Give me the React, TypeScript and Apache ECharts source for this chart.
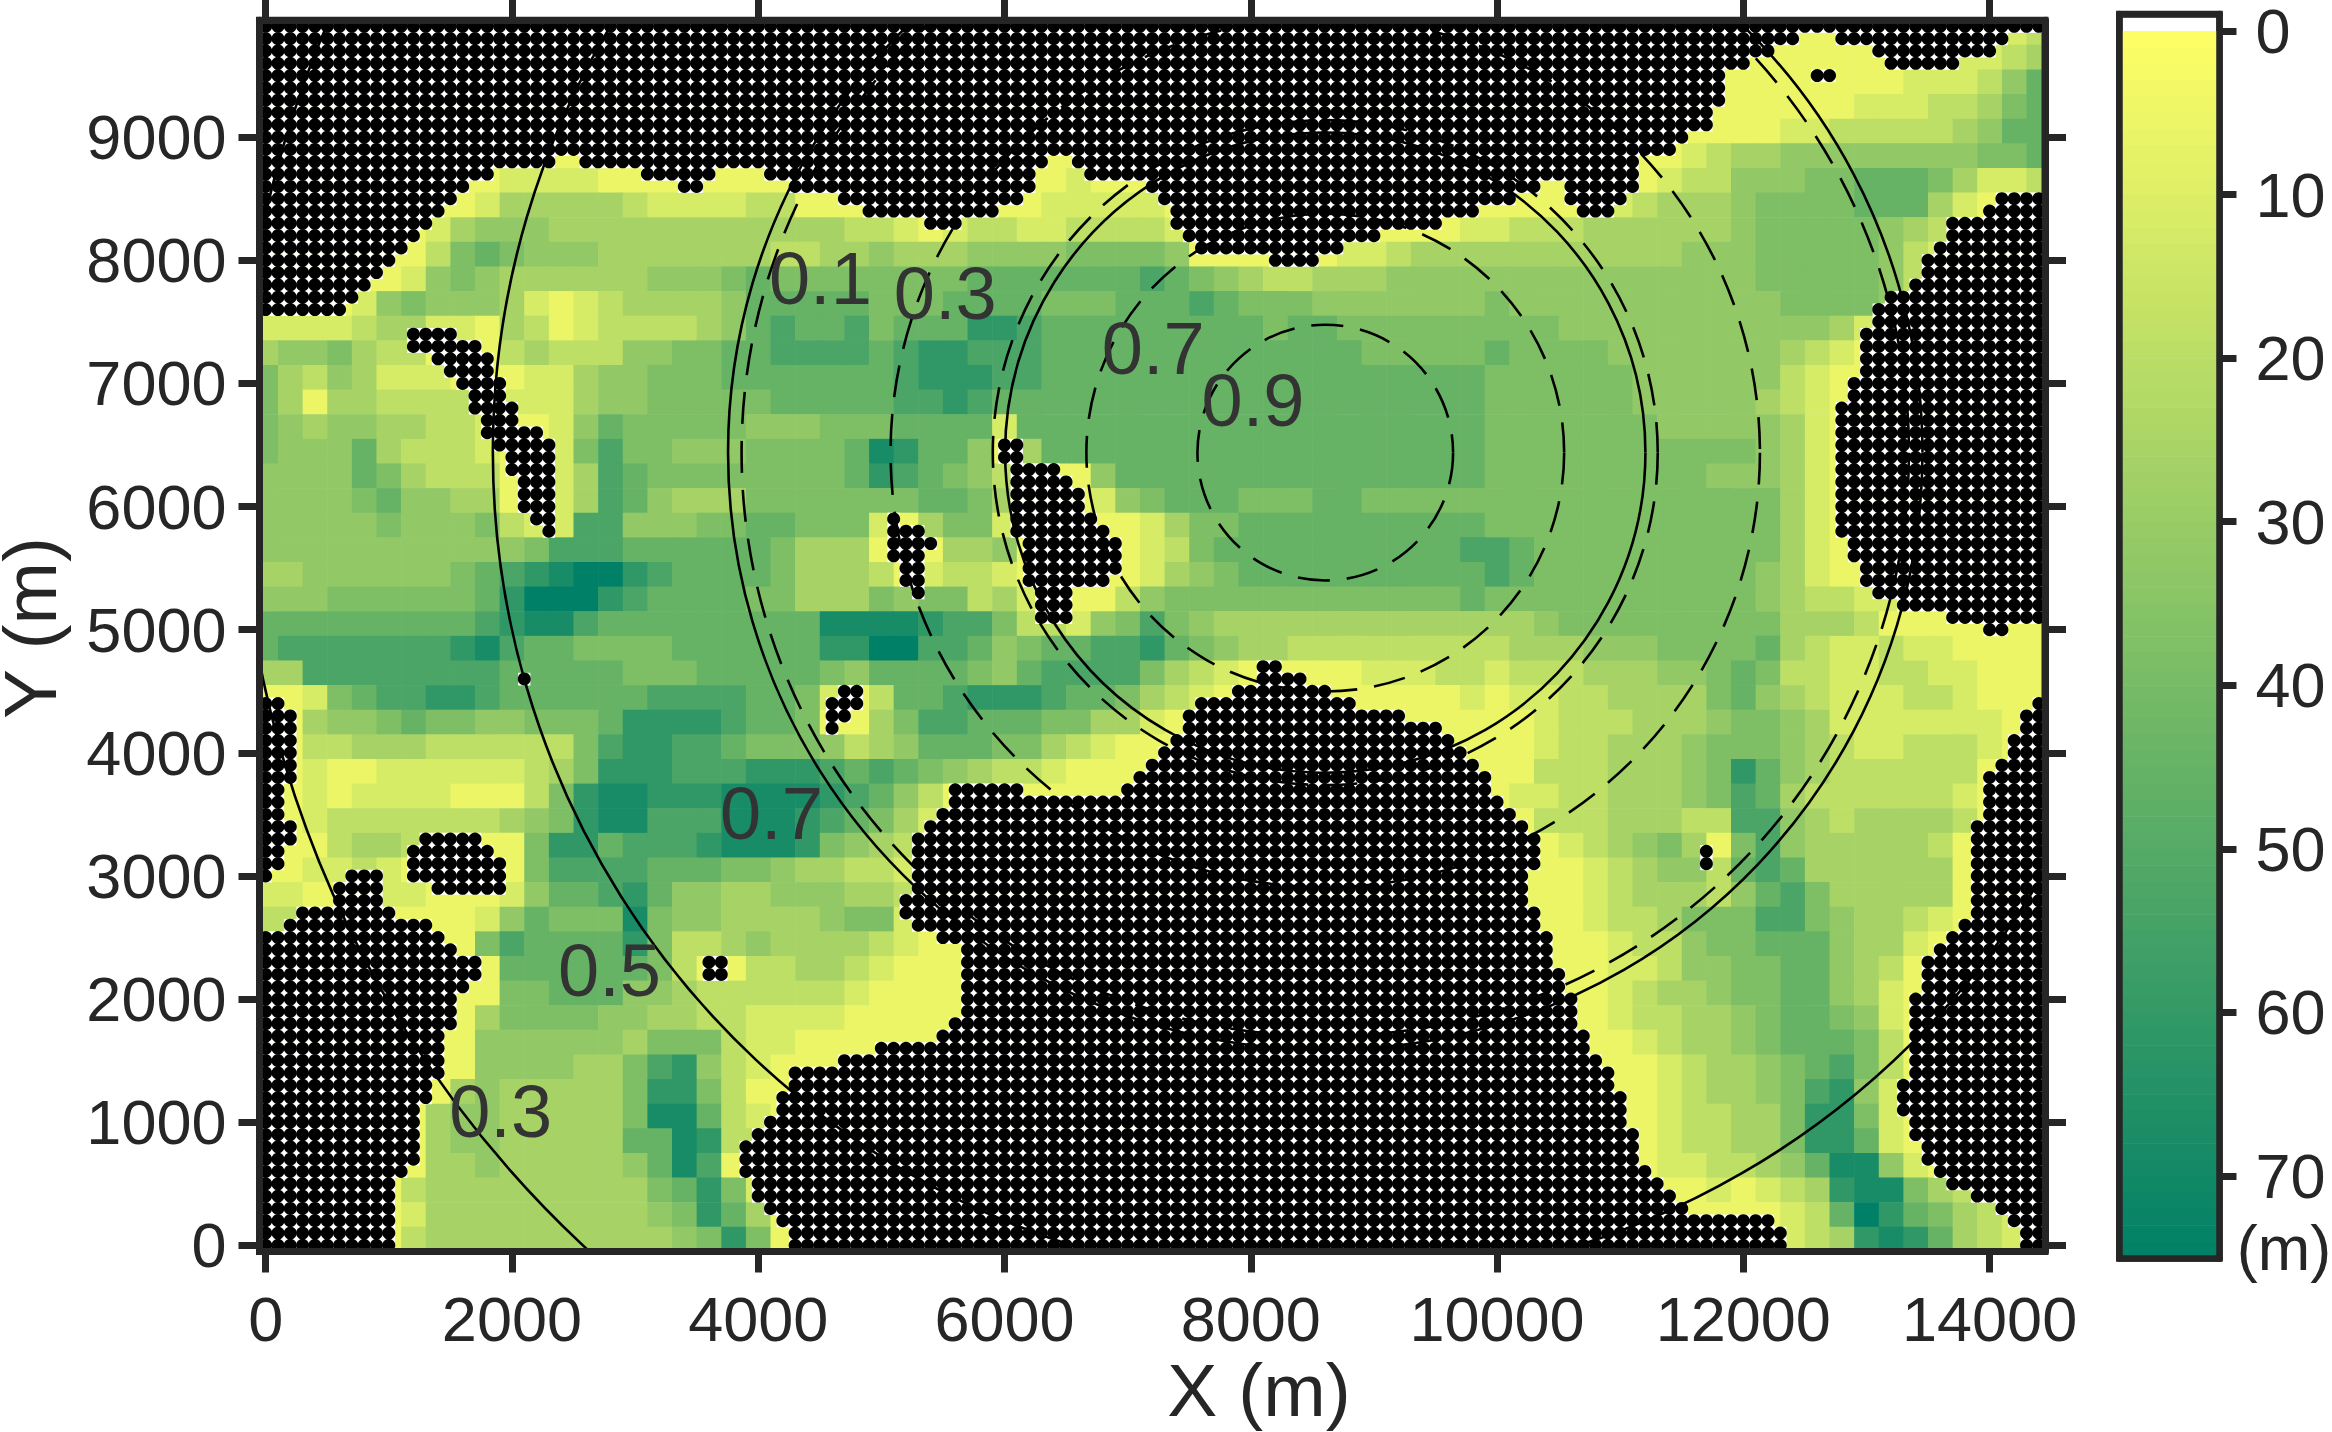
import React, { useEffect, useRef } from "react";
import * as echarts from "echarts";

const FONT = '"Liberation Sans", Arial, sans-serif';
const INK = "#262626";

const X_TICKS = [0, 2000, 4000, 6000, 8000, 10000, 12000, 14000];
const Y_TICKS = [0, 1000, 2000, 3000, 4000, 5000, 6000, 7000, 8000, 9000];
const CB_TICKS = [0, 10, 20, 30, 40, 50, 60, 70];
const LEVEL_DEPTHS = [6, 12, 19, 26, 32, 38, 45, 53, 61, 68, 75];

// depth levels; one row every 200 m from the top, each group spans 1000 m in x
const DEPTH_ROWS = [
  "00000 00000 00000 00000 00000 00000 00000 00000 00000 00000 00000 00000 00000 00000 012",
  "00000 00000 00000 00000 00000 00000 00000 00000 00000 00000 00000 00000 00000 00001 123",
  "00000 00000 00000 00000 00000 00000 00000 00000 00000 00000 00000 00000 00000 00111 246",
  "00000 00000 00000 00000 00000 00000 00000 00000 00000 00000 00000 00000 00000 11122 356",
  "00000 00000 00000 00000 00000 00000 00000 00000 00000 00000 00000 00000 00112 22223 466",
  "00000 00000 00000 00000 00000 00000 00000 00000 00000 00000 00000 00012 33444 44444 556",
  "00000 00000 11110 00000 00000 00000 00010 00000 00000 00000 00000 00122 44455 66653 112",
  "00000 00001 33333 21111 22000 00000 00111 11000 00000 00000 00000 12333 45555 66631 000",
  "00000 00134 44333 33333 33332 21012 21122 22100 00000 00001 12223 33333 45555 54320 000",
  "00000 00256 54443 33333 32233 43334 44455 55400 00001 12333 33333 33344 45555 54210 000",
  "00000 01454 33333 34445 65555 55556 66666 67654 32233 34444 44444 44444 45555 54210 000",
  "00001 45444 31012 33334 66666 55566 66555 66676 55544 44444 54444 44444 44555 54000 000",
  "11112 33110 32012 22234 67667 56668 87666 66666 65665 55555 55544 44444 44443 10000 000",
  "34453 22000 23222 44556 67777 67887 77666 66666 66666 55555 65555 44444 44321 00000 000",
  "53243 11100 01134 45556 66666 67888 77666 66666 66666 66666 55555 54444 44210 00000 000",
  "53033 22221 11134 45555 56666 67787 66666 66666 66666 66666 55555 54444 43210 00000 000",
  "54344 33221 00146 55555 44455 56666 16666 66666 66666 66666 55555 55444 44310 00000 000",
  "54446 32221 00157 55444 55556 98664 03666 66666 66666 66666 55555 55555 54310 00000 000",
  "44446 53222 00137 65555 55556 87654 20004 66666 66666 66666 55555 55554 44310 00000 000",
  "44445 64433 00137 64333 55555 55665 30001 45666 55566 55555 55555 55555 55310 00000 000",
  "44444 54445 21177 44455 66555 10355 10000 01355 66666 66666 55555 55555 55310 00000 000",
  "44444 44444 45777 66666 65333 00033 40000 01256 66666 66667 76555 55555 55310 00000 000",
  "33444 44456 789aa 87666 65333 20122 10000 01345 66666 66666 76555 55555 54310 00000 000",
  "44455 55556 8aaa8 76666 55333 54552 31000 24555 55555 55556 55555 55555 54322 11000 000",
  "66666 66667 89976 66666 66699 99877 52214 57543 33333 33333 33455 55555 55333 20000 000",
  "67777 77789 76655 55666 66688 aa776 45667 78654 33222 22222 23334 44555 56321 12110 000",
  "33777 77777 66666 55566 66654 66665 46777 75321 00000 11122 12223 33445 65221 12211 000",
  "00156 77887 66666 67777 66510 26678 88766 53210 00000 00001 01122 33335 64321 11221 000",
  "00344 56554 45556 88887 66500 35776 66553 31000 00000 00000 00122 23334 55431 11111 100",
  "00223 33222 22257 88776 55542 34666 55321 00000 00000 00000 00122 33345 55432 11222 100",
  "00100 11111 12358 88777 88876 76543 22100 00000 00000 00000 00222 33345 86432 22222 000",
  "00101 11100 02589 98889 99987 64200 00000 00000 00000 00000 01122 33345 76322 22221 000",
  "00122 22222 34589 97779 99876 53100 00000 00000 00000 00000 00222 33322 77432 33332 000",
  "00023 32000 05886 77789 99854 32000 00000 00000 00000 00000 00012 34530 57433 33320 000",
  "00112 10000 05777 76665 54332 21000 00000 00000 00000 00000 00001 23442 67633 33330 000",
  "11000 11000 14667 86443 34443 32000 00000 00000 00000 00000 00001 23332 46753 33330 000",
  "22000 00001 46555 95443 33345 51000 00000 00000 00000 00000 00001 22355 57754 33210 000",
  "00000 00005 76666 85223 43333 21000 00000 00000 00000 00000 00000 12245 56664 33100 000",
  "00000 00000 66666 65200 22332 10000 00000 00000 00000 00000 00000 11244 55664 32000 000",
  "00000 00000 55666 44322 22221 00000 00000 00000 00000 00000 00000 12334 55664 31000 000",
  "00000 00003 55554 43322 11110 00000 00000 00000 00000 00000 00000 12233 45665 41000 000",
  "00000 00004 44444 35552 11000 00000 00000 00000 00000 00000 00000 01233 45666 52000 000",
  "00000 00004 44433 57842 10000 00000 00000 00000 00000 00000 00000 00123 34567 52000 000",
  "00000 00034 33333 58852 00000 00000 00000 00000 00000 00000 00000 00123 34578 41000 000",
  "00000 00344 33333 59962 10000 00000 00000 00000 00000 00000 00000 00122 33588 51000 000",
  "00000 00344 33333 66982 20000 00000 00000 00000 00000 00000 00000 00122 33588 61000 000",
  "00000 00334 33333 46970 00000 00000 00000 00000 00000 00000 00000 00112 23469 94100 000",
  "00000 02333 33333 35685 10000 00000 00000 00000 00000 00000 00000 00001 01238 99532 100",
  "00000 01333 33333 34586 30000 00000 00000 00000 00000 00000 00000 00000 00126 a8653 210",
  "00000 02333 33333 33458 50000 00000 00000 00000 00000 00000 00000 00000 00123 89863 210",
];

// dotted (no-data) cells: one row every 100 m from y = 9900 down; pairs of first, last column (100 m each)
const DOT_ROWS = [
  [0, 144], [0, 124, 128, 141], [0, 122, 131, 140], [0, 120, 132, 137], [0, 118, 126, 127],
  [0, 118], [0, 118], [0, 117], [0, 117], [0, 115],
  [0, 114], [0, 23, 26, 63, 66, 111], [0, 18, 31, 36, 41, 62, 67, 111], [0, 16, 34, 35, 43, 62, 72, 103, 106, 111],
  [0, 15, 47, 61, 73, 101, 106, 110, 141, 144],
  [0, 14, 49, 59, 74, 98, 107, 109, 140, 144], [0, 13, 54, 56, 74, 95, 137, 144], [0, 12, 75, 90, 137, 144],
  [0, 11, 76, 87, 136, 144], [0, 10, 82, 85, 135, 144],
  [0, 9, 135, 144], [0, 8, 134, 144], [0, 7, 132, 144], [0, 6, 131, 144], [131, 144],
  [12, 15, 130, 144], [12, 17, 130, 144], [14, 18, 130, 144], [15, 18, 130, 144], [16, 19, 129, 144],
  [17, 19, 129, 144], [17, 20, 128, 144], [18, 20, 128, 144], [18, 22, 128, 144], [19, 23, 60, 61, 128, 144],
  [20, 23, 60, 61, 128, 144], [20, 23, 61, 64, 128, 144], [21, 23, 61, 65, 128, 144], [21, 23, 61, 66, 128, 144],
  [21, 23, 61, 66, 128, 144],
  [22, 23, 51, 51, 61, 67, 128, 144], [23, 23, 51, 53, 61, 68, 128, 144], [51, 54, 62, 69, 129, 144],
  [51, 53, 62, 69, 129, 144], [52, 53, 62, 69, 130, 144],
  [52, 53, 62, 68, 130, 144], [53, 53, 63, 65, 131, 144], [63, 65, 133, 144], [63, 65, 137, 144], [140, 141],
  [], [], [81, 82], [21, 21, 81, 84], [47, 48, 79, 86],
  [0, 1, 46, 48, 76, 88, 144, 144], [0, 2, 46, 47, 75, 92, 143, 144], [0, 2, 46, 46, 75, 95, 143, 144],
  [0, 2, 74, 96, 142, 144], [0, 2, 73, 97, 142, 144],
  [0, 2, 72, 98, 141, 144], [0, 2, 71, 99, 140, 144], [0, 1, 56, 61, 70, 99, 140, 144], [0, 1, 56, 100, 140, 144],
  [0, 1, 55, 101, 140, 144],
  [0, 2, 54, 102, 139, 144], [0, 2, 13, 17, 53, 103, 139, 144], [0, 1, 12, 18, 53, 103, 117, 117, 139, 144],
  [0, 1, 12, 19, 53, 103, 117, 117, 139, 144], [0, 0, 7, 9, 12, 19, 53, 102, 139, 144],
  [6, 9, 14, 19, 53, 102, 139, 144], [6, 9, 52, 102, 139, 144], [3, 10, 52, 103, 139, 144], [2, 13, 53, 103, 138, 144],
  [0, 14, 55, 104, 137, 144],
  [0, 15, 57, 104, 136, 144], [0, 17, 36, 37, 57, 104, 135, 144], [0, 17, 36, 37, 57, 105, 135, 144],
  [0, 16, 57, 105, 135, 144], [0, 15, 57, 106, 134, 144],
  [0, 15, 57, 106, 134, 144], [0, 15, 56, 106, 134, 144], [0, 14, 55, 107, 134, 144], [0, 14, 50, 107, 134, 144],
  [0, 14, 47, 108, 134, 144],
  [0, 14, 43, 109, 134, 144], [0, 13, 43, 109, 133, 144], [0, 13, 42, 110, 133, 144], [0, 12, 42, 110, 133, 144],
  [0, 12, 41, 110, 134, 144],
  [0, 12, 40, 111, 134, 144], [0, 12, 39, 111, 135, 144], [0, 12, 39, 111, 135, 144], [0, 11, 39, 112, 136, 144],
  [0, 10, 40, 113, 137, 144],
  [0, 10, 40, 114, 139, 144], [0, 10, 41, 115, 141, 144], [0, 10, 42, 122, 142, 144], [0, 10, 43, 123, 143, 144],
  [0, 10, 43, 123, 143, 144],
];

// contours: centre x, centre y, radius (m), dashed flag
const CONTOURS = [
  [8605, 6438, 1038, 1],
  [8605, 6438, 1940, 1],
  [8605, 6438, 2600, 0],
  [8605, 6438, 2700, 1],
  [8605, 6438, 3530, 1],
  [8605, 6438, 4740, 1],
  [8605, 6438, 4850, 0],
  [8605, 6438, 6760, 0],
  [8605, 6438, 8820, 0],
];
const CONTOUR_LABELS = ["0.1", "0.3", "0.7", "0.9", "0.7", "0.5", "0.3"];
const CONTOUR_LABEL_X = [4505, 5519, 7208, 8018, 4107, 2792, 1908];
const CONTOUR_LABEL_Y = [7855, 7733, 7287, 6864, 3509, 2234, 1089];
const CB_LEVELS = Array.from({ length: 75 }, (_, i) => i);

const depthCells: number[][] = [];
DEPTH_ROWS.forEach((row, k) => {
  row.replace(/ /g, "").split("").forEach((ch, i) => {
    depthCells.push([i * 200, 9850 - k * 200, LEVEL_DEPTHS[parseInt(ch, 16)]]);
  });
});
const dotSpans: number[][] = [];
const dots: number[][] = [];
DOT_ROWS.forEach((row, r) => {
  for (let p = 0; p < row.length; p += 2) {
    dotSpans.push([row[p] * 100, 9900 - r * 100, row[p + 1] * 100]);
    for (let c = row[p]; c <= row[p + 1]; c++) dots.push([c * 100, 9900 - r * 100]);
  }
});

export default function App() {
  const ref = useRef<HTMLDivElement>(null);
  useEffect(() => {
    const chart = echarts.init(ref.current!, null, { renderer: "svg" });
    const axisText = { fontFamily: FONT, fontSize: 63, color: INK };
    const line = { show: true, onZero: false, lineStyle: { color: INK, width: 7 } };
    const cbLine = { show: true, onZero: false, lineStyle: { color: INK, width: 6.5 } };
    const tick = (values: number[]) => ({
      show: true,
      length: 21,
      customValues: values,
      lineStyle: { color: INK, width: 7 },
    });
    const fmt = (v: number) => String(v);
    chart.setOption({
      animation: false,
      backgroundColor: "#ffffff",
      grid: [
        { left: 259.5, top: 20.2, width: 1785.5, height: 1231.3, outerBoundsMode: "none" },
        { left: 2119.3, top: 14, width: 100.2, height: 1244.5, outerBoundsMode: "none" },
      ],
      xAxis: [
        {
          gridIndex: 0, type: "value", min: -50, max: 14450, position: "bottom", z: 10,
          axisLine: line, axisTick: tick(X_TICKS), splitLine: { show: false },
          axisLabel: { ...axisText, margin: 36, customValues: X_TICKS, formatter: fmt },
        },
        {
          gridIndex: 0, type: "value", min: -50, max: 14450, position: "top", z: 10,
          axisLine: line, axisTick: tick(X_TICKS), splitLine: { show: false },
          axisLabel: { show: false },
        },
        {
          gridIndex: 1, type: "value", min: 0, max: 1, position: "bottom", z: 10,
          axisLine: cbLine, axisTick: { show: false }, axisLabel: { show: false }, splitLine: { show: false },
        },
        {
          gridIndex: 1, type: "value", min: 0, max: 1, position: "top", z: 10,
          axisLine: cbLine, axisTick: { show: false }, axisLabel: { show: false }, splitLine: { show: false },
        },
      ],
      yAxis: [
        {
          gridIndex: 0, type: "value", min: -50, max: 9950, position: "left", z: 10,
          axisLine: line, axisTick: tick(Y_TICKS), splitLine: { show: false },
          axisLabel: { ...axisText, margin: 33, customValues: Y_TICKS, formatter: fmt },
        },
        {
          gridIndex: 0, type: "value", min: -50, max: 9950, position: "right", z: 10,
          axisLine: line, axisTick: tick(Y_TICKS), splitLine: { show: false },
          axisLabel: { show: false },
        },
        {
          gridIndex: 1, type: "value", min: -1.04, max: 75.04, inverse: true, position: "right", z: 10,
          axisLine: cbLine, splitLine: { show: false },
          axisTick: { show: true, length: 17, customValues: CB_TICKS, lineStyle: { color: INK, width: 7 } },
          axisLabel: { ...axisText, lineHeight: 50, margin: 36, customValues: CB_TICKS, formatter: fmt },
        },
        {
          gridIndex: 1, type: "value", min: -1.04, max: 75.04, inverse: true, position: "left", z: 10,
          axisLine: cbLine, axisTick: { show: false }, axisLabel: { show: false }, splitLine: { show: false },
        },
      ],
      visualMap: {
        show: false, type: "continuous", min: 0, max: 75, dimension: 2, seriesIndex: [0, 5],
        inRange: { color: ["#ffff66", "#008066"] },
      },
      series: [
        {
          type: "custom", xAxisIndex: 0, yAxisIndex: 0, clip: true, silent: true, progressive: 0,
          data: depthCells, encode: { x: 0, y: 1 },
          renderItem: (_: any, api: any) => {
            const a = api.coord([api.value(0) - 100, api.value(1) + 100]);
            const b = api.coord([api.value(0) + 100, api.value(1) - 100]);
            return {
              type: "rect",
              shape: { x: a[0], y: a[1], width: b[0] - a[0] + 0.6, height: b[1] - a[1] + 0.6 },
              style: { fill: api.visual("color") },
            };
          },
        },
        {
          type: "custom", xAxisIndex: 0, yAxisIndex: 0, clip: true, silent: true, progressive: 0,
          data: dotSpans, encode: { x: 0, y: 1 },
          renderItem: (_: any, api: any) => {
            const a = api.coord([api.value(0) - 50, api.value(1) + 50]);
            const b = api.coord([api.value(2) + 50, api.value(1) - 50]);
            return {
              type: "rect",
              shape: { x: a[0], y: a[1], width: b[0] - a[0], height: b[1] - a[1] + 0.4 },
              style: { fill: "#ffffff" },
            };
          },
        },
        {
          type: "custom", xAxisIndex: 0, yAxisIndex: 0, clip: true, silent: true, progressive: 0,
          data: CONTOURS, encode: { x: 0, y: 1 },
          renderItem: (_: any, api: any) => {
            const c = api.coord([api.value(0), api.value(1)]);
            const r = api.size([api.value(2), 0])[0];
            return {
              type: "arc",
              shape: { cx: c[0], cy: c[1], r, startAngle: 0, endAngle: Math.PI * 2 },
              style: {
                fill: "none", stroke: "#000000", lineWidth: 2.6,
                lineDash: api.value(3) ? [32, 17] : null,
              },
            };
          },
        },
        {
          type: "scatter", xAxisIndex: 0, yAxisIndex: 0, clip: true, silent: true, progressive: 0,
          symbol: "circle", symbolSize: 13, itemStyle: { color: "#000000", opacity: 1 }, data: dots,
        },
        {
          type: "custom", xAxisIndex: 0, yAxisIndex: 0, silent: true,
          data: CONTOUR_LABEL_X.map((x, i) => [x, CONTOUR_LABEL_Y[i]]), encode: { x: 0, y: 1 },
          renderItem: (p: any, api: any) => {
            const c = api.coord([api.value(0), api.value(1)]);
            return {
              type: "text", x: c[0], y: c[1],
              style: {
                text: CONTOUR_LABELS[p.dataIndex], fontFamily: FONT, fontSize: 74, fill: "#333333",
                align: "center", verticalAlign: "middle",
              },
            };
          },
        },
        {
          type: "custom", xAxisIndex: 2, yAxisIndex: 2, clip: true, silent: true,
          data: CB_LEVELS.map((v) => [0, v, v + 0.5]), encode: { x: 0, y: 1 },
          renderItem: (_: any, api: any) => {
            const a = api.coord([0, api.value(1)]);
            const b = api.coord([1, api.value(1) + 1]);
            return {
              type: "rect",
              shape: { x: a[0], y: a[1], width: b[0] - a[0], height: b[1] - a[1] + 0.5 },
              style: { fill: api.visual("color") },
            };
          },
        },
      ],
      graphic: [
        {
          type: "rect", z: 100, silent: true,
          shape: { x: 259.5, y: 20.2, width: 1785.5, height: 1231.3 },
          style: { fill: "none", stroke: INK, lineWidth: 7 },
        },
        {
          type: "rect", z: 100, silent: true,
          shape: { x: 2119.3, y: 14, width: 100.2, height: 1244.5 },
          style: { fill: "none", stroke: INK, lineWidth: 6.5 },
        },
        {
          type: "text", z: 100, x: 1259, y: 1390, silent: true,
          style: { text: "X (m)", fontFamily: FONT, fontSize: 75, lineHeight: 70, fill: INK, align: "center", verticalAlign: "middle" },
        },
        {
          type: "text", z: 100, x: 30, y: 628, rotation: Math.PI / 2, silent: true,
          style: { text: "Y (m)", fontFamily: FONT, fontSize: 75, lineHeight: 60, fill: INK, align: "center", verticalAlign: "middle" },
        },
        {
          type: "text", z: 100, x: 2284, y: 1248, silent: true,
          style: { text: "(m)", fontFamily: FONT, fontSize: 63, fill: INK, align: "center", verticalAlign: "middle" },
        },
      ],
    });
    return () => chart.dispose();
  }, []);
  return <div ref={ref} style={{ position: "fixed", left: 0, top: 0, width: 2332, height: 1432 }} />;
}
